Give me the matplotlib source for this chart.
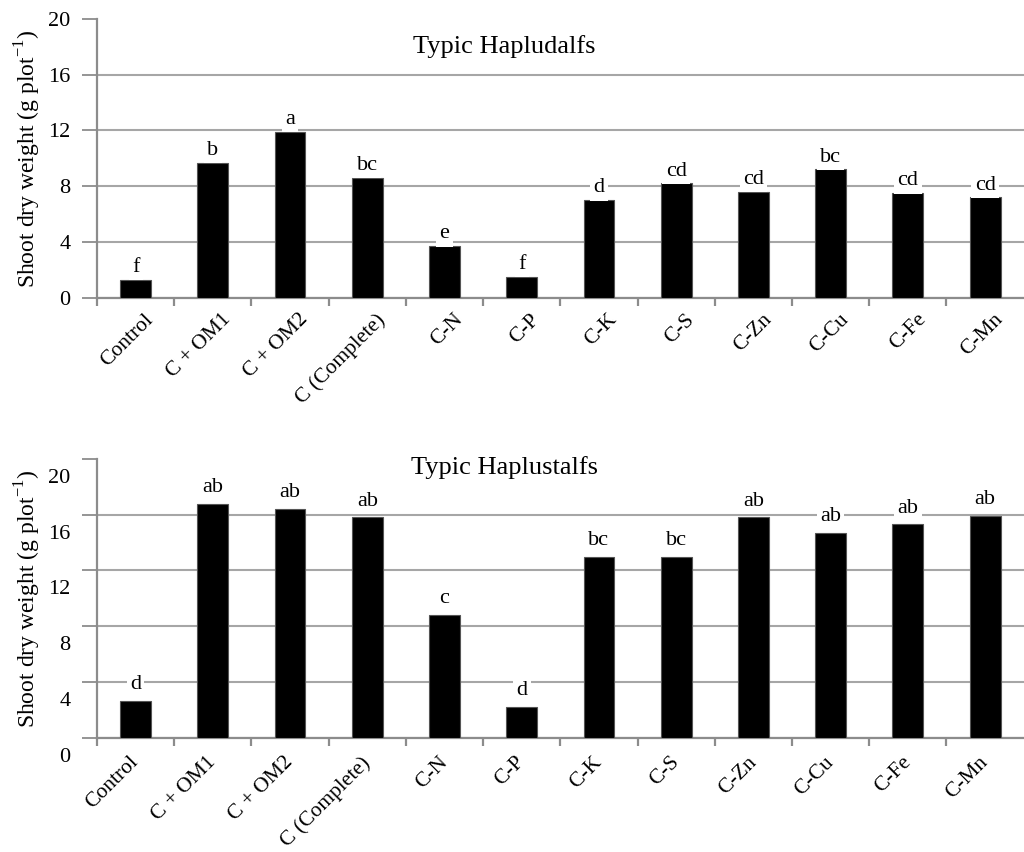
import numpy as np
import matplotlib.pyplot as plt
from matplotlib.transforms import ScaledTranslation

plt.rcParams['font.family'] = ['Liberation Serif', 'DejaVu Serif']
plt.rcParams['mathtext.fontset'] = 'custom'
plt.rcParams['mathtext.rm'] = 'Liberation Serif'

# %% data
treatments = ["Control", "C + OM1", "C + OM2", "C (Complete)", "C-N", "C-P",
              "C-K", "C-S", "C-Zn", "C-Cu", "C-Fe", "C-Mn"]

hapludalfs = np.array([1.3, 9.7, 11.9, 8.6, 3.7, 1.5, 7.0, 8.2, 7.6, 9.2, 7.5, 7.2])
hapludalfs_letters = ["f", "b", "a", "bc", "e", "f", "d", "cd", "cd", "bc", "cd", "cd"]

haplustalfs = np.array([2.6, 16.8, 16.4, 15.8, 8.8, 2.2, 13.0, 13.0, 15.8, 14.7, 15.3, 15.9])
haplustalfs_letters = ["d", "ab", "ab", "ab", "c", "d", "bc", "bc", "ab", "ab", "ab", "ab"]

yticks = [0, 4, 8, 12, 16, 20]
grey = "#8c8c8c"

fig = plt.figure(figsize=(10.24, 8.52), dpi=100)
ax1 = fig.add_axes([0.0947, 0.6506, 0.905, 0.3271])
ax2 = fig.add_axes([0.0947, 0.1342, 0.905, 0.3271])


def draw_panel(ax, values, letters, title, title_y, label_shift, letter_off, dx, xpad):
    x = np.arange(len(treatments))
    ax.bar(x, values, width=0.4, color="black", edgecolor="#555555", linewidth=0.8, zorder=3)
    for xi, v, lab in zip(x, values, letters):
        ax.annotate(lab, (xi, v), xytext=(0, letter_off), textcoords="offset points",
                    ha="center", va="bottom", fontsize=16, zorder=4,
                    bbox=dict(boxstyle="square,pad=0.15", fc="white", ec="none"))
    ax.text(0.44, title_y, title, transform=ax.get_yaxis_transform(),
            ha="center", va="center", fontsize=19, zorder=4,
            bbox=dict(boxstyle="square,pad=0.2", fc="white", ec="none"))
    ax.set_xlim(-0.5, len(treatments) - 0.5)
    ax.set_ylim(0, 20)
    ax.set_yticks(yticks)
    ax.tick_params(axis="y", labelsize=16, color=grey, length=11, width=1.3, pad=8)
    ax.yaxis.grid(True, color="#a6a6a6", linewidth=1.5, zorder=0)
    ax.get_ygridlines()[-1].set_visible(False)
    ax.set_axisbelow(True)
    ax.set_xticks(x)
    ax.set_xticklabels(treatments, rotation=45, ha="right", fontsize=15.5)
    ax.tick_params(axis="x", which="major", length=0, pad=xpad)
    ax.set_xticks(np.arange(len(treatments)) - 0.5, minor=True)
    ax.tick_params(axis="x", which="minor", length=6, width=1.6, color=grey)
    for lbl in ax.get_xticklabels():
        lbl.set_transform(lbl.get_transform() + ScaledTranslation(dx, 0, fig.dpi_scale_trans))
    if label_shift:
        for lbl in ax.get_yticklabels():
            lbl.set_transform(lbl.get_transform() + ScaledTranslation(0, -label_shift, fig.dpi_scale_trans))
    for s in ["top", "right"]:
        ax.spines[s].set_visible(False)
    for s in ["left", "bottom"]:
        ax.spines[s].set_color(grey)
        ax.spines[s].set_linewidth(1.6)
    ax.set_ylabel("Shoot dry weight (g plot$^{\\mathrm{-1}}$)", fontsize=17, labelpad=4)


draw_panel(ax1, hapludalfs, hapludalfs_letters, "Typic Hapludalfs", 18.0, 0, 2, 0.22, 9)
draw_panel(ax2, haplustalfs, haplustalfs_letters, "Typic Haplustalfs", 19.4, 0.17, 5, 0.07, 11)

plt.savefig("out.png", dpi=100)
